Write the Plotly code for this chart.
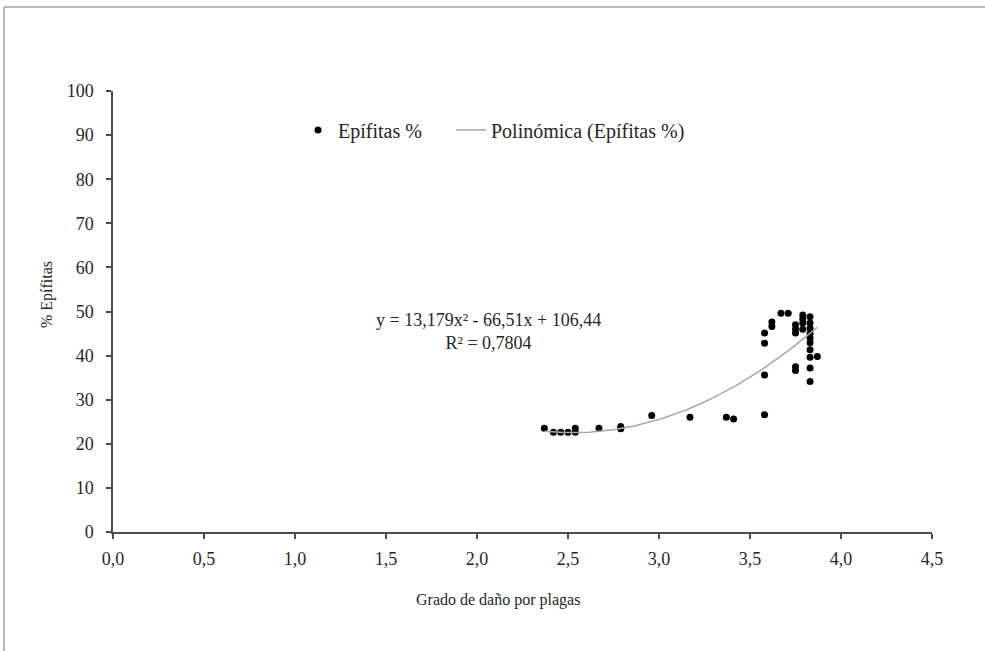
import numpy as np
import plotly.graph_objects as go

# Data
grado = [2.37, 2.42, 2.46, 2.50, 2.54, 2.54, 2.67, 2.79, 2.79, 2.96, 3.17, 3.37, 3.41,
         3.58, 3.58, 3.58, 3.58,
         3.62, 3.62,
         3.67, 3.71,
         3.75, 3.75, 3.75, 3.75, 3.75,
         3.79, 3.79, 3.79, 3.79,
         3.83, 3.83, 3.83, 3.83, 3.83, 3.83, 3.83, 3.83, 3.83, 3.83,
         3.87]
epifitas = [23.5, 22.6, 22.6, 22.6, 23.5, 22.6, 23.5, 23.9, 23.4, 26.4, 26.0, 26.0, 25.6,
            45.1, 42.8, 35.6, 26.6,
            47.6, 46.6,
            49.6, 49.6,
            47.0, 46.0, 45.1, 37.5, 36.6,
            49.2, 48.3, 47.4, 46.0,
            48.8, 47.4, 46.2, 45.0, 44.0, 42.9, 41.3, 39.6, 37.2, 34.1,
            39.8]
coef = [13.179, -66.51, 106.44]
x_ticks = [0, 0.5, 1.0, 1.5, 2.0, 2.5, 3.0, 3.5, 4.0, 4.5]
x_tick_labels = ["0,0", "0,5", "1,0", "1,5", "2,0", "2,5", "3,0", "3,5", "4,0", "4,5"]
y_ticks = [0, 10, 20, 30, 40, 50, 60, 70, 80, 90, 100]

FONT = "Liberation Serif"
TXT = "#262626"
AX = "#4d4d4d"

L, T, R, B = 113, 91, 53, 119
W, H = 985, 651
PW = 932 - 113
PH = 532 - 91


def px(xp):
    return (xp - 113) / PW


def py(yp):
    return (532 - yp) / PH


xf = np.linspace(min(grado), max(grado), 100)
yf = np.polyval(coef, xf)

fig = go.Figure()
fig.add_trace(go.Scatter(x=grado, y=epifitas, mode="markers", name="Epífitas %",
                         marker=dict(color="black", size=7), legend="legend"))
fig.add_trace(go.Scatter(x=xf, y=yf, mode="lines", name="Polinómica (Epífitas %)",
                         line=dict(color="#a6a6a6", width=1.5), legend="legend2"))

leg_common = dict(orientation="h", xanchor="left", yanchor="middle",
                  font=dict(family=FONT, size=20, color=TXT), bgcolor="rgba(0,0,0,0)",
                  itemwidth=30)

fig.update_layout(
    width=W, height=H,
    margin=dict(l=L, r=R, t=T, b=B),
    paper_bgcolor="white", plot_bgcolor="white",
    font=dict(family=FONT, size=16, color=TXT),
    showlegend=True,
    legend=dict(x=px(298), y=py(130), **leg_common),
    legend2=dict(x=px(451), y=py(130), **leg_common),
    xaxis=dict(range=[0, 4.5], tickvals=x_ticks, ticktext=x_tick_labels,
               showgrid=False, zeroline=False, showline=True, linecolor=AX, linewidth=1.5,
               ticks="outside", ticklen=5, tickcolor=AX, tickwidth=1.5, ticklabelstandoff=5,
               tickfont=dict(family=FONT, size=18, color=TXT)),
    yaxis=dict(range=[0, 100], tickvals=y_ticks,
               showgrid=False, zeroline=False, showline=True, linecolor=AX, linewidth=1.5,
               ticks="outside", ticklen=5, tickcolor=AX, tickwidth=1.5, ticklabelstandoff=9,
               tickfont=dict(family=FONT, size=18, color=TXT)),
    shapes=[
        dict(type="line", xref="paper", yref="paper", x0=px(4), x1=px(1000), y0=py(7), y1=py(7),
             line=dict(color="#a0a0a0", width=1.5)),
        dict(type="line", xref="paper", yref="paper", x0=px(4), x1=px(4), y0=py(7), y1=py(670),
             line=dict(color="#a0a0a0", width=1.5)),
    ],
    annotations=[
        dict(text="y = 13,179x² - 66,51x + 106,44<br>R² = 0,7804", xref="paper", yref="paper",
             x=px(488), y=py(331), xanchor="center", yanchor="middle", showarrow=False,
             font=dict(family=FONT, size=18, color=TXT), align="center"),
        dict(text="Grado de daño por plagas", xref="paper", yref="paper",
             x=px(498), y=py(600), xanchor="center", yanchor="middle", showarrow=False,
             font=dict(family=FONT, size=16, color=TXT)),
        dict(text="% Epífitas", xref="paper", yref="paper", textangle=-90,
             x=px(47), y=py(295), xanchor="center", yanchor="middle", showarrow=False,
             font=dict(family=FONT, size=16, color=TXT)),
    ],
)

fig.write_html("out.html", config={"displayModeBar": False},
               post_script="document.body.style.margin='0px';")
